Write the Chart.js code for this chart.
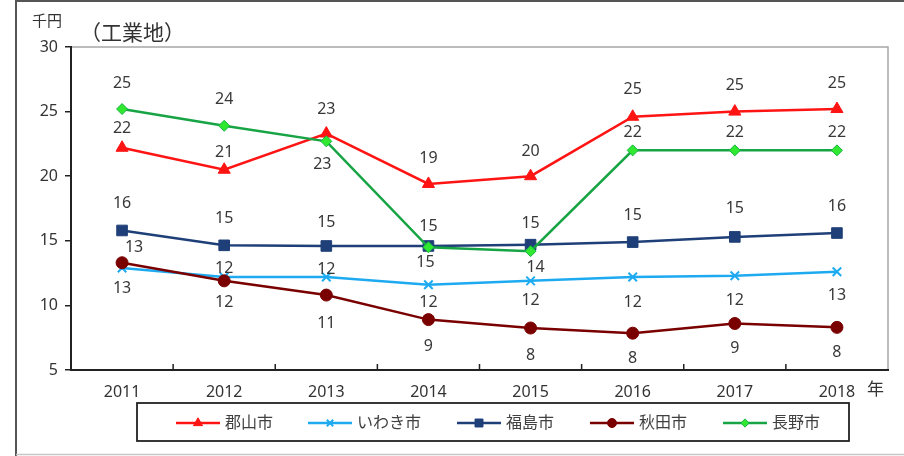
<!DOCTYPE html>
<html>
<head>
<meta charset="utf-8">
<script src="https://cdn.jsdelivr.net/npm/chart.js@4/dist/chart.umd.min.js"></script>
<style>
html, body { margin: 0; padding: 0; background: #fff; }
#wrap { width: 904px; height: 456px; }
</style>
</head>
<body>
<div id="wrap"><canvas id="chart" width="904" height="456"></canvas></div>
<script>
// 工業地 地価（千円）
var years = ['2011', '2012', '2013', '2014', '2015', '2016', '2017', '2018'];
var koriyama = [22.2, 20.5, 23.3, 19.4, 20.0, 24.6, 25.0, 25.2];
var iwaki = [12.9, 12.2, 12.2, 11.6, 11.9, 12.2, 12.3, 12.6];
var fukushima = [15.8, 14.65, 14.6, 14.6, 14.7, 14.9, 15.3, 15.6];
var akita = [13.3, 11.9, 10.8, 8.9, 8.25, 7.85, 8.6, 8.3];
var nagano = [25.2, 23.9, 22.7, 14.5, 14.2, 22.0, 22.0, 22.0];
var yTicks = [5, 10, 15, 20, 25, 30];

// where each value label sits relative to its point (layout only)
var labelDy = [
    [-19, -17, -24, -26, -25, -27, -26, -26],
    [21, -9, -8, 18, 20, 25, 25, 24],
    [-27, -27, -24, -20, -21, -27, -28, -27],
    [-15, 22, 28, 27, 27, 25, 25, 25],
    [-26, -26, 23, 15, 16, -18, -18, -18]
];
var labelDx = [
    [0, 0, 0, 0, 0, 0, 0, 0],
    [0, 0, 0, 0, 0, 0, 0, 0],
    [0, 0, 0, 0, 0, 0, 0, 0],
    [12, 0, 0, 0, 0, 0, 0, 0],
    [0, 0, -4, -3, 5, 0, 0, 0]
];
var legendX = [176, 308, 457, 590, 723];

var numFont = "'Noto Sans', sans-serif";
var jpFont = "'Noto Sans CJK JP', sans-serif";

function series(label, data, color, style, radius, extra) {
    var ds = {
        label: label,
        data: data,
        borderColor: color,
        backgroundColor: color,
        pointBackgroundColor: color,
        pointBorderColor: color,
        pointStyle: style,
        pointRadius: radius,
        pointBorderWidth: 1,
        borderWidth: 2.5,
        tension: 0
    };
    for (var k in extra) ds[k] = extra[k];
    return ds;
}

var framePlugin = {
    id: 'frame',
    beforeDraw: function(chart) {
        var ctx = chart.ctx;
        ctx.save();
        ctx.fillStyle = '#fff';
        ctx.fillRect(0, 0, chart.width, chart.height);
        // outer frame
        ctx.strokeStyle = '#555';
        ctx.lineWidth = 2;
        ctx.beginPath();
        ctx.moveTo(16, 456);
        ctx.lineTo(16, 1);
        ctx.lineTo(904, 1);
        ctx.stroke();
        ctx.strokeStyle = '#c8c8c8';
        ctx.lineWidth = 1.5;
        ctx.beginPath();
        ctx.moveTo(16, 454.5);
        ctx.lineTo(904, 454.5);
        ctx.stroke();
        // plot area top / right edge
        var a = chart.chartArea;
        ctx.strokeStyle = '#a6a6a6';
        ctx.lineWidth = 1.5;
        ctx.beginPath();
        ctx.moveTo(a.left, a.top);
        ctx.lineTo(a.right, a.top);
        ctx.lineTo(a.right, a.bottom);
        ctx.stroke();
        // titles
        ctx.fillStyle = '#333';
        ctx.textBaseline = 'middle';
        ctx.textAlign = 'left';
        ctx.font = '15px ' + jpFont;
        ctx.fillText('千円', 32, 20);
        ctx.font = '21px ' + jpFont;
        ctx.fillText('（工業地）', 80, 32);
        ctx.font = '17px ' + jpFont;
        ctx.fillText('年', 867, 389);
        ctx.restore();
    },
    afterDraw: function(chart) {
        var ctx = chart.ctx;
        var x = chart.scales.x;
        var a = chart.chartArea;
        ctx.save();
        // inner tick marks between categories
        ctx.strokeStyle = '#222';
        ctx.lineWidth = 1.5;
        ctx.beginPath();
        for (var i = 1; i < years.length; i++) {
            var px = (x.getPixelForValue(i - 1) + x.getPixelForValue(i)) / 2;
            ctx.moveTo(px, a.bottom);
            ctx.lineTo(px, a.bottom - 6);
        }
        ctx.stroke();
        // legend
        ctx.strokeStyle = '#222';
        ctx.lineWidth = 1.8;
        ctx.strokeRect(137, 403, 712, 38);
        var ly = 423;
        chart.data.datasets.forEach(function(ds, j) {
            var lx = legendX[j];
            ctx.strokeStyle = ds.borderColor;
            ctx.lineWidth = 2.5;
            ctx.beginPath();
            ctx.moveTo(lx, ly);
            ctx.lineTo(lx + 44, ly);
            ctx.stroke();
            ctx.fillStyle = ds.pointBackgroundColor;
            ctx.strokeStyle = ds.pointBorderColor;
            ctx.lineWidth = ds.pointStyle === 'crossRot' ? 2 : 1;
            Chart.helpers.drawPoint(ctx, {
                pointStyle: ds.pointStyle,
                radius: ds.pointRadius * 0.75,
                rotation: 0,
                borderWidth: ctx.lineWidth
            }, lx + 22, ly);
            ctx.fillStyle = '#404040';
            ctx.font = '16px ' + jpFont;
            ctx.textAlign = 'left';
            ctx.textBaseline = 'middle';
            ctx.fillText(ds.label, lx + 49, ly - 1);
        });
        ctx.restore();
    },
    afterDatasetsDraw: function(chart) {
        var ctx = chart.ctx;
        ctx.save();
        ctx.fillStyle = '#383838';
        ctx.font = '16px ' + numFont;
        ctx.textAlign = 'center';
        ctx.textBaseline = 'middle';
        chart.data.datasets.forEach(function(ds, j) {
            var meta = chart.getDatasetMeta(j);
            meta.data.forEach(function(pt, i) {
                ctx.fillText(String(Math.round(ds.data[i])), pt.x + labelDx[j][i], pt.y + labelDy[j][i]);
            });
        });
        ctx.restore();
    }
};

var ctx = document.getElementById('chart').getContext('2d');
var chart = new Chart(ctx, {
    type: 'line',
    data: {
        labels: years,
        datasets: [
            series('郡山市', koriyama, '#ff1414', 'triangle', 7, { order: 1 }),
            series('いわき市', iwaki, '#1eaaf0', 'crossRot', 6, { order: 4, pointBorderWidth: 2 }),
            series('福島市', fukushima, '#1f3f78', 'rect', 7.5, { order: 2 }),
            series('秋田市', akita, '#7a0000', 'circle', 6, { order: 3 }),
            series('長野市', nagano, '#17a444', 'rectRot', 5.5, {
                order: 0,
                pointBackgroundColor: '#2fe82f',
                pointBorderColor: '#17b444'
            })
        ]
    },
    options: {
        responsive: false,
        animation: false,
        layout: {
            padding: { top: 47, right: 16, left: 0, bottom: 0 }
        },
        plugins: {
            legend: { display: false },
            tooltip: { enabled: false }
        },
        scales: {
            x: {
                offset: true,
                grid: { drawOnChartArea: false, drawTicks: false, offset: true },
                border: { color: '#222', width: 2 },
                ticks: {
                    color: '#333',
                    padding: 13,
                    maxRotation: 0,
                    font: { family: numFont, size: 16 }
                },
                afterFit: function(s) { s.height = 86; }
            },
            y: {
                min: 5,
                max: 30,
                afterBuildTicks: function(s) {
                    s.ticks = yTicks.map(function(v) { return { value: v }; });
                },
                grid: { drawOnChartArea: false, tickLength: 6, color: '#222', lineWidth: 1.5 },
                border: { color: '#222', width: 2 },
                ticks: {
                    color: '#333',
                    padding: 7,
                    font: { family: numFont, size: 16 }
                },
                afterFit: function(s) { s.width = 71; }
            }
        }
    },
    plugins: [framePlugin]
});
</script>
</body>
</html>
